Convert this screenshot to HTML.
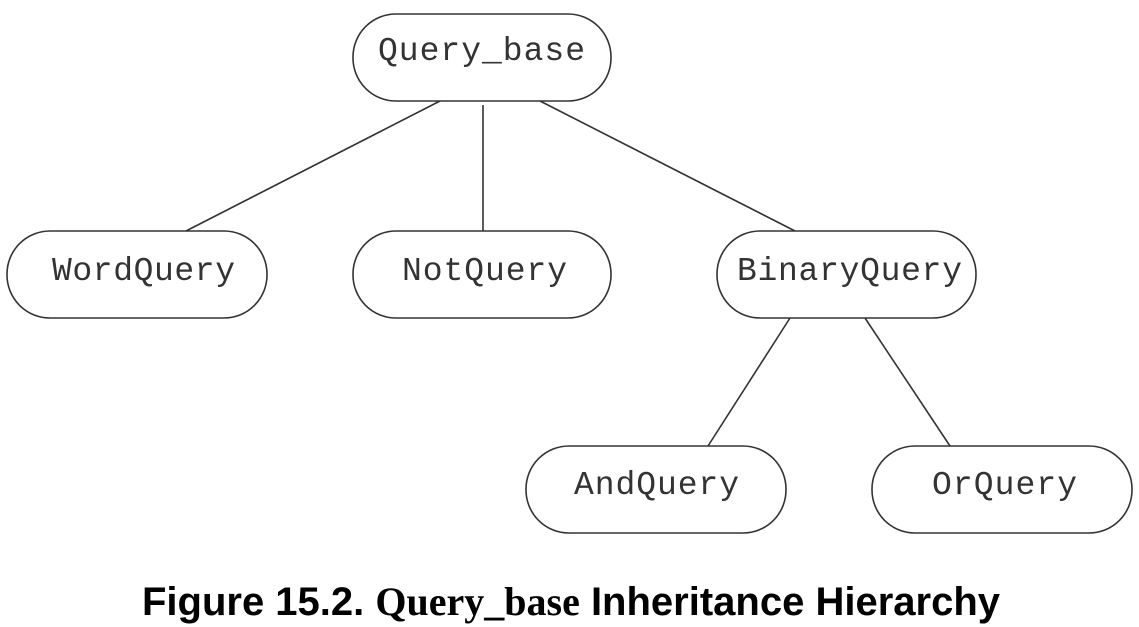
<!DOCTYPE html>
<html><head><style>
html,body{margin:0;padding:0;background:#fff;}
svg{display:block;}
</style></head><body>
<svg width="1139" height="627" viewBox="0 0 1139 627" xmlns="http://www.w3.org/2000/svg">
<g stroke="#333" stroke-width="1.6" fill="none">
<line x1="440" y1="101" x2="186" y2="231"/>
<line x1="483" y1="105" x2="483" y2="231"/>
<line x1="540" y1="101" x2="795" y2="231"/>
<line x1="790" y1="318" x2="708" y2="446"/>
<line x1="865" y1="318" x2="950" y2="446"/>
<rect x="353" y="14" width="258" height="87" rx="43" fill="#fff"/>
<rect x="7" y="231" width="260" height="87" rx="43" fill="#fff"/>
<rect x="353" y="231" width="258" height="87" rx="43" fill="#fff"/>
<rect x="717" y="231" width="259" height="87" rx="43" fill="#fff"/>
<rect x="526" y="446" width="260" height="87" rx="43" fill="#fff"/>
<rect x="872" y="446" width="260" height="87" rx="43" fill="#fff"/>
</g>
<g font-family="Liberation Mono, monospace" font-size="33" fill="#333">
<text x="378" y="60" textLength="207">Query_base</text>
<text x="52" y="280" textLength="183">WordQuery</text>
<text x="402" y="280" textLength="165">NotQuery</text>
<text x="737" y="280" textLength="225">BinaryQuery</text>
<text x="574" y="494" textLength="165">AndQuery</text>
<text x="932" y="494" textLength="145">OrQuery</text>
</g>
<text x="571" y="615" text-anchor="middle" font-size="40" font-weight="bold" fill="#000"><tspan font-family="Liberation Sans, sans-serif">Figure 15.2. </tspan><tspan font-family="Liberation Serif, serif">Query_base</tspan><tspan font-family="Liberation Sans, sans-serif"> Inheritance Hierarchy</tspan></text>
</svg>
</body></html>
